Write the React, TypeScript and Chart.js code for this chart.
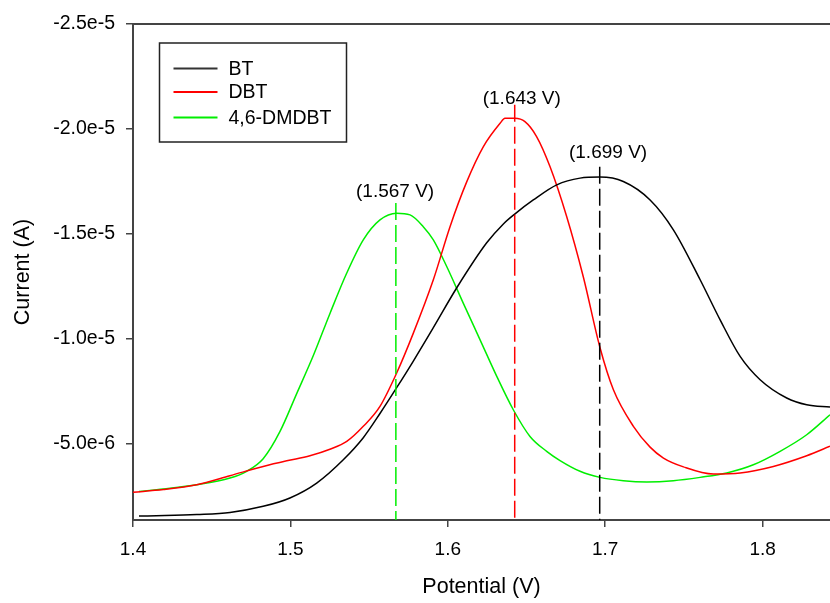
import React, { useEffect, useRef } from "react";
import { Chart, registerables } from "chart.js";

Chart.register(...registerables);

// Potential (V) and current (A)
const btX = [1.4038, 1.4203, 1.4405, 1.4616, 1.4827, 1.4997, 1.5167, 1.5336, 1.5463, 1.5569, 1.5675, 1.5781, 1.5908, 1.6057, 1.6247, 1.6353, 1.6427, 1.6543, 1.6692, 1.684, 1.6967, 1.7115, 1.7285, 1.7433, 1.7603, 1.773, 1.7857, 1.7984, 1.8153, 1.828, 1.8428];
const btY = [-1.57e-6, -1.59e-6, -1.64e-6, -1.74e-6, -2.03e-6, -2.43e-6, -3.14e-6, -4.25e-6, -5.3e-6, -6.45e-6, -7.68e-6, -8.95e-6, -10.54e-6, -12.44e-6, -14.58e-6, -15.48e-6, -15.96e-6, -16.62e-6, -17.34e-6, -17.66e-6, -17.71e-6, -17.5e-6, -16.62e-6, -15.2e-6, -12.82e-6, -10.91e-6, -9.17e-6, -8.06e-6, -7.19e-6, -6.87e-6, -6.76e-6];

const dbtX = [1.4, 1.4193, 1.4405, 1.4616, 1.4827, 1.4977, 1.5124, 1.5251, 1.5358, 1.5463, 1.5569, 1.5675, 1.5781, 1.5908, 1.6014, 1.612, 1.6226, 1.6332, 1.6363, 1.6427, 1.649, 1.6564, 1.6649, 1.6755, 1.6861, 1.6967, 1.7052, 1.7179, 1.7285, 1.737, 1.7497, 1.7687, 1.7857, 1.8068, 1.828, 1.8428];
const dbtY = [-2.7e-6, -2.83e-6, -3.06e-6, -3.49e-6, -3.93e-6, -4.2e-6, -4.44e-6, -4.75e-6, -5.12e-6, -5.84e-6, -6.79e-6, -8.38e-6, -10.28e-6, -12.82e-6, -15.35e-6, -17.48e-6, -19.16e-6, -20.27e-6, -20.51e-6, -20.51e-6, -20.35e-6, -19.64e-6, -18.21e-6, -15.83e-6, -12.95e-6, -9.58e-6, -7.58e-6, -5.84e-6, -4.85e-6, -4.33e-6, -3.91e-6, -3.57e-6, -3.62e-6, -3.93e-6, -4.44e-6, -4.89e-6];

const dmdbtX = [1.4038, 1.4193, 1.4405, 1.4616, 1.4722, 1.4827, 1.4934, 1.504, 1.5145, 1.5252, 1.5358, 1.5463, 1.5569, 1.5675, 1.576, 1.5844, 1.5908, 1.5993, 1.6098, 1.6205, 1.6311, 1.6416, 1.6522, 1.6628, 1.6713, 1.684, 1.6967, 1.7115, 1.7264, 1.7433, 1.7603, 1.7772, 1.7941, 1.8111, 1.828, 1.8428];
const dmdbtY = [-2.74e-6, -2.86e-6, -3.06e-6, -3.38e-6, -3.7e-6, -4.3e-6, -5.6e-6, -7.4e-6, -9.2e-6, -11.23e-6, -13.14e-6, -14.72e-6, -15.67e-6, -15.99e-6, -15.91e-6, -15.35e-6, -14.72e-6, -13.45e-6, -11.71e-6, -9.96e-6, -8.22e-6, -6.63e-6, -5.36e-6, -4.65e-6, -4.21e-6, -3.7e-6, -3.41e-6, -3.25e-6, -3.19e-6, -3.25e-6, -3.41e-6, -3.62e-6, -4.01e-6, -4.65e-6, -5.44e-6, -6.39e-6];

// Series names and colours
const seriesNames = ["BT", "DBT", "4,6-DMDBT"];
const seriesColors = ["#000000", "#ff0000", "#00ee00"];

// Peak markers (order: BT, DBT, 4,6-DMDBT)
const peakLineX = [1.6965, 1.6425, 1.567];
const peakLineTop = [-18.2e-6, -21.15e-6, -16.47e-6];
const peakLabels = ["(1.699 V)", "(1.643 V)", "(1.567 V)"];
const peakLabelX = [1.7018, 1.647, 1.5665];
const peakLabelY = [-18.88e-6, -21.46e-6, -17.02e-6];

// Axes
const xMin = 1.4;
const xMax = 1.8428;
const xTicks = [1.4, 1.5, 1.6, 1.7, 1.8];
const xTickLabels = ["1.4", "1.5", "1.6", "1.7", "1.8"];
const yTop = -2.5e-5;
const yBottom = -1.38e-6;
const yTicks = [-2.5e-5, -2.0e-5, -1.5e-5, -1.0e-5, -5.0e-6];
const yTickLabels = ["-2.5e-5", "-2.0e-5", "-1.5e-5", "-1.0e-5", "-5.0e-6"];

const FONT = "'Liberation Sans', Arial, sans-serif";

function pts(xs: number[], ys: number[]) {
  return xs.map((x, i) => ({ x, y: ys[i] }));
}

const decorPlugin = {
  id: "decor",
  afterDraw(chart: any) {
    const { ctx, chartArea, scales } = chart;
    const xs = scales.x;
    const ys = scales.y;
    ctx.save();
    // top frame line
    ctx.strokeStyle = "#444444";
    ctx.lineWidth = 2;
    ctx.beginPath();
    ctx.moveTo(chartArea.left - 1, chartArea.top);
    ctx.lineTo(chartArea.right, chartArea.top);
    ctx.stroke();

    // peak labels
    ctx.fillStyle = "#000";
    ctx.font = `19px ${FONT}`;
    ctx.textAlign = "center";
    ctx.textBaseline = "middle";
    peakLabels.forEach((t, i) => {
      ctx.fillText(t, xs.getPixelForValue(peakLabelX[i]), ys.getPixelForValue(peakLabelY[i]));
    });

    // legend box
    const bx = chartArea.left + 26.5;
    const by = chartArea.top + 19;
    const bw = 187;
    const bh = 99;
    ctx.strokeStyle = "#222";
    ctx.lineWidth = 1.5;
    ctx.strokeRect(bx, by, bw, bh);
    const rows = [25.5, 49, 74.5];
    ctx.textAlign = "left";
    ctx.font = `19.5px ${FONT}`;
    seriesNames.forEach((n, i) => {
      const ry = by + rows[i];
      ctx.strokeStyle = i === 0 ? "#333" : seriesColors[i];
      ctx.lineWidth = 2;
      ctx.beginPath();
      ctx.moveTo(bx + 14, ry);
      ctx.lineTo(bx + 58, ry);
      ctx.stroke();
      ctx.fillStyle = "#000";
      ctx.fillText(n, bx + 69, ry + 1);
    });
    ctx.restore();
  },
};

export default function App() {
  const ref = useRef<HTMLCanvasElement | null>(null);
  useEffect(() => {
    document.body.style.margin = "0";
    const canvas = ref.current;
    if (!canvas) return;
    const curveSets = [
      pts(btX, btY),
      pts(dbtX, dbtY),
      pts(dmdbtX, dmdbtY),
    ].map((data, i) => ({
      label: seriesNames[i],
      data,
      borderColor: seriesColors[i],
      borderWidth: 1.5,
      pointRadius: 0,
      showLine: true,
      fill: false,
      cubicInterpolationMode: "monotone" as const,
    }));
    const dashSets = peakLineX.map((x, i) => ({
      label: "peak " + seriesNames[i],
      data: [
        { x, y: peakLineTop[i] },
        { x, y: yBottom },
      ],
      borderColor: seriesColors[i],
      borderWidth: 1.5,
      borderDash: [17, 5],
      pointRadius: 0,
      showLine: true,
      fill: false,
    }));
    const chart = new Chart(canvas, {
      type: "scatter",
      data: { datasets: [...dashSets, ...curveSets] as any },
      options: {
        responsive: false,
        animation: false,
        layout: { padding: { top: 24, right: 0, left: 0, bottom: 0 } },
        plugins: { legend: { display: false }, tooltip: { enabled: false } },
        scales: {
          x: {
            type: "linear",
            min: xMin,
            max: xMax,
            afterBuildTicks: (s: any) => {
              s.ticks = xTicks.map((v) => ({ value: v }));
            },
            afterFit: (s: any) => {
              s.height = 83;
            },
            ticks: {
              autoSkip: false,
              maxRotation: 0,
              padding: 11,
              color: "#000",
              font: { size: 19, family: FONT },
              callback: (_v: any, i: number) => xTickLabels[i],
            },
            grid: {
              display: true,
              drawOnChartArea: false,
              drawTicks: true,
              tickLength: 7,
              color: "#444",
              lineWidth: 1.5,
            },
            border: { display: true, color: "#444", width: 2 },
            title: {
              display: true,
              text: "Potential (V)",
              color: "#000",
              font: { size: 21.5, family: FONT },
              padding: { top: 0, bottom: 3 },
            },
          },
          y: {
            type: "linear",
            reverse: true,
            min: yTop,
            max: yBottom,
            afterBuildTicks: (s: any) => {
              s.ticks = yTicks.map((v) => ({ value: v }));
            },
            afterFit: (s: any) => {
              s.width = 133;
            },
            ticks: {
              autoSkip: false,
              padding: 11,
              color: "#000",
              font: { size: 19.5, family: FONT },
              callback: (_v: any, i: number) => yTickLabels[i],
            },
            grid: {
              display: true,
              drawOnChartArea: false,
              drawTicks: true,
              tickLength: 7,
              color: "#444",
              lineWidth: 1.5,
            },
            border: { display: true, color: "#444", width: 2 },
            title: {
              display: true,
              text: "Current (A)",
              color: "#000",
              font: { size: 21.5, family: FONT },
              padding: { top: 10, bottom: 0 },
            },
          },
        },
      },
      plugins: [decorPlugin],
    });
    return () => chart.destroy();
  }, []);
  return (
    <div style={{ width: 830, height: 603 }}>
      <canvas ref={ref} width={830} height={603} style={{ display: "block" }} />
    </div>
  );
}
